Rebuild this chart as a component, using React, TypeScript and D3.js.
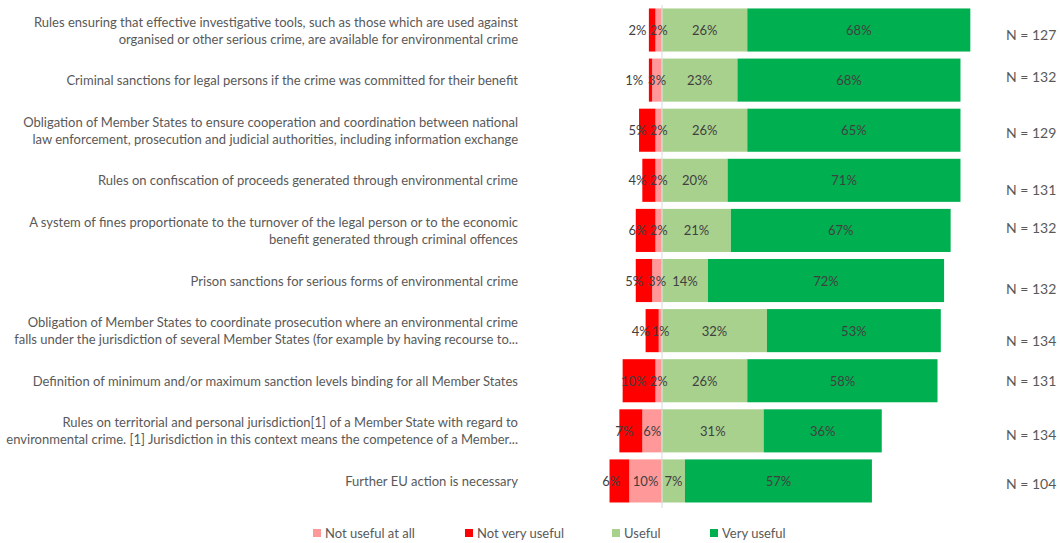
import React from "react";
import * as d3 from "d3";

const categories: string[] = [
  "Rules ensuring that effective investigative tools, such as those which are used against|organised or other serious crime, are available for environmental crime",
  "Criminal sanctions for legal persons if the crime was committed for their benefit",
  "Obligation of Member States to ensure cooperation and coordination between national|law enforcement, prosecution and judicial authorities, including information exchange",
  "Rules on confiscation of proceeds generated through environmental crime",
  "A system of fines proportionate to the turnover of the legal person or to the economic|benefit generated through criminal offences",
  "Prison sanctions for serious forms of environmental crime",
  "Obligation of Member States to coordinate prosecution where an environmental crime|falls under the jurisdiction of several Member States (for example by having recourse to...",
  "Definition of minimum and/or maximum sanction levels binding for all Member States",
  "Rules on territorial and personal jurisdiction[1] of a Member State with regard to|environmental crime. [1] Jurisdiction in this context means the competence of a Member...",
  "Further EU action is necessary",
];

const notUsefulAtAll: number[] = [2, 3, 2, 2, 2, 3, 1, 2, 6, 10];
const notVeryUseful: number[] = [2, 1, 5, 4, 6, 5, 4, 10, 7, 6];
const useful: number[] = [26, 23, 26, 20, 21, 14, 32, 26, 31, 7];
const veryUseful: number[] = [68, 68, 65, 71, 67, 72, 53, 58, 36, 57];
const nValues: number[] = [127, 132, 129, 131, 132, 132, 134, 131, 134, 104];

const seriesNames: string[] = ["Not useful at all", "Not very useful", "Useful", "Very useful"];

// styling / layout (not data)
const colors = ["#FF9999", "#FF0000", "#A9D18E", "#00B050"];
const nOffsets = [4, -4, 2, 9, -3, 8, 10, 0, 4, 3];
const legendX = [313, 465, 612, 710];

const W = 1060;
const H = 543;
const FONT = "Lato, 'Open Sans', sans-serif";

export default function App() {
  const x = d3.scaleLinear().domain([-20, 100]).range([662 - 20 * 3.28, 662 + 100 * 3.28]);
  const y = d3
    .scaleBand<number>()
    .domain(d3.range(categories.length))
    .range([4.95, 506])
    .paddingInner(0.14)
    .paddingOuter(0.07);
  const bw = y.bandwidth();

  return (
    <svg width={W} height={H} style={{ display: "block", position: "absolute", left: 0, top: 0 }}>
      <rect width={W} height={H} fill="#fff" />
      {/* zero line */}
      <line x1={x(0)} x2={x(0)} y1={5} y2={508} stroke="#D9D9D9" strokeWidth={1} />
      {categories.map((cat, i) => {
        const y0 = y(i)!;
        const cy = y0 + bw / 2;
        const p = notUsefulAtAll[i];
        const r = notVeryUseful[i];
        const u = useful[i];
        const v = veryUseful[i];
        const lines = cat.split("|");
        const segs = [
          { x0: x(-p), x1: x(0), c: colors[0] },
          { x0: x(-p - r), x1: x(-p), c: colors[1] },
          { x0: x(0), x1: x(u), c: colors[2] },
          { x0: x(u), x1: x(u + v), c: colors[3] },
        ];
        return (
          <g key={i}>
            {segs.map((s, k) => (
              <rect key={k} x={s.x0} y={y0} width={s.x1 - s.x0} height={bw} fill={s.c} />
            ))}
            <line x1={x(0)} x2={x(0)} y1={y0} y2={y0 + bw} stroke="#E6E6E6" strokeWidth={1} />
            {/* value labels */}
            <g fontFamily={FONT} fontSize={13} fill="#404040" dominantBaseline="central">
              <text x={x(-p) - 9} y={cy} textAnchor="end">{r}%</text>
              <text x={(x(-p) + x(0)) / 2} y={cy} textAnchor="middle">{p}%</text>
              <text x={(x(0) + x(u)) / 2} y={cy} textAnchor="middle">{u}%</text>
              <text x={(x(u) + x(u + v)) / 2} y={cy} textAnchor="middle">{v}%</text>
            </g>
            {/* category label */}
            <text
              fontFamily={FONT}
              fontSize={13}
              fill="#595959"
              textAnchor="end"
              dominantBaseline="central"
            >
              {lines.map((ln, j) => (
                <tspan key={j} x={518} y={cy + (j - (lines.length - 1) / 2) * 17}>
                  {ln}
                </tspan>
              ))}
            </text>
            <text
              x={1006}
              y={cy + nOffsets[i]}
              fontFamily={FONT}
              fontSize={14}
              fill="#595959"
              dominantBaseline="central"
            >
              N = {nValues[i]}
            </text>
          </g>
        );
      })}
      {/* legend */}
      <g fontFamily={FONT} fontSize={13} fill="#595959">
        {seriesNames.map((n, k) => (
          <g key={n} transform={`translate(${legendX[k]},533)`}>
            <rect x={0} y={-4} width={8} height={8} fill={colors[k]} />
            <text x={12} y={0} dominantBaseline="central">{n}</text>
          </g>
        ))}
      </g>
    </svg>
  );
}
